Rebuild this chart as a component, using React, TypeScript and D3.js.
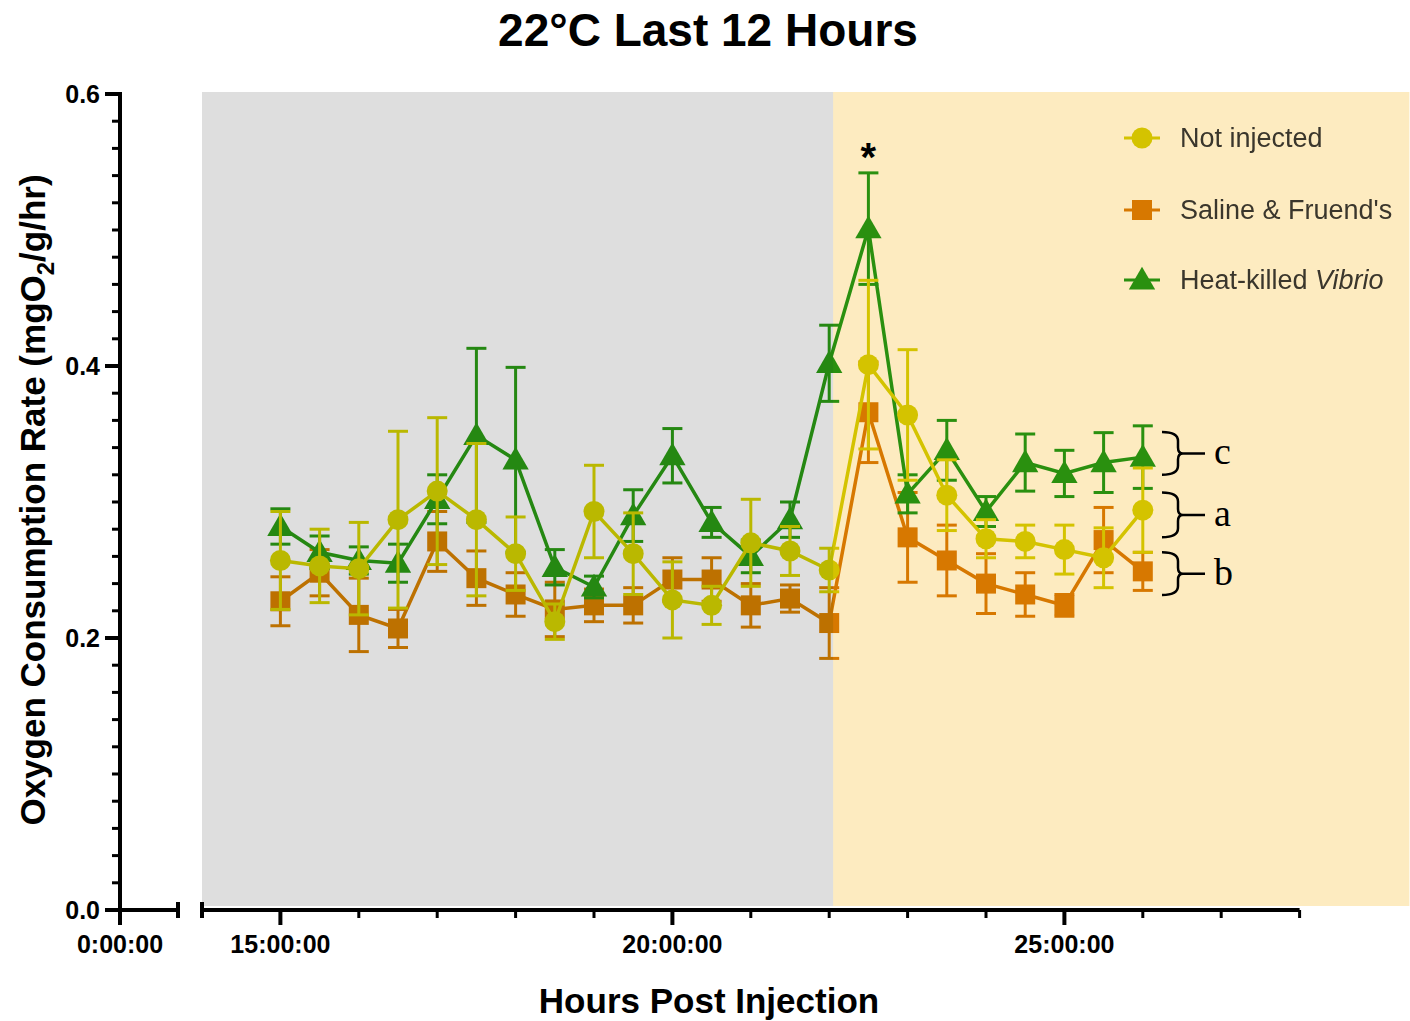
import React from 'react';
import * as d3 from 'd3';

const hours = [15, 15.5, 16, 16.5, 17, 17.5, 18, 18.5, 19, 19.5, 20, 20.5, 21, 21.5, 22, 22.5, 23, 23.5, 24, 24.5, 25, 25.5, 26];

const notInjected = [0.257, 0.253, 0.251, 0.287, 0.308, 0.287, 0.262, 0.212, 0.293, 0.262, 0.228, 0.224, 0.270, 0.264, 0.250, 0.401, 0.364, 0.305, 0.273, 0.271, 0.265, 0.259, 0.294];
const notInjectedErr = [0.036, 0.027, 0.034, 0.065, 0.054, 0.056, 0.027, 0.013, 0.034, 0.030, 0.028, 0.014, 0.032, 0.018, 0.016, 0.062, 0.048, 0.026, 0.014, 0.012, 0.018, 0.022, 0.031];

const saline = [0.227, 0.248, 0.217, 0.207, 0.271, 0.244, 0.232, 0.221, 0.224, 0.224, 0.243, 0.243, 0.224, 0.229, 0.211, 0.366, 0.274, 0.257, 0.240, 0.232, 0.224, 0.272, 0.249];
const salineErr = [0.018, 0.017, 0.027, 0.014, 0.022, 0.020, 0.016, 0.020, 0.012, 0.013, 0.016, 0.016, 0.016, 0.010, 0.026, 0.037, 0.033, 0.026, 0.022, 0.016, 0.008, 0.024, 0.014];

const vibrio = [0.282, 0.263, 0.257, 0.255, 0.302, 0.349, 0.331, 0.252, 0.2375, 0.290, 0.334, 0.285, 0.260, 0.287, 0.402, 0.501, 0.306, 0.338, 0.293, 0.329, 0.321, 0.329, 0.333];
const vibrioErr = [0.013, 0.012, 0.010, 0.014, 0.018, 0.064, 0.068, 0.013, 0.008, 0.019, 0.020, 0.011, 0.012, 0.013, 0.028, 0.041, 0.014, 0.022, 0.011, 0.021, 0.017, 0.022, 0.023];

const seriesNames = ['Not injected', 'Saline & Fruend\'s', 'Heat-killed'];
const seriesColors = ['#D6D400', '#D98200', '#2A9C14'];

const yMajorTicks = [0, 0.2, 0.4, 0.6];
const yTickLabels = ['0.0', '0.2', '0.4', '0.6'];
const xMajorTicks = [15, 20, 25];
const xTickLabels = ['15:00:00', '20:00:00', '25:00:00'];
const xMinorTicks = [16, 17, 18, 19, 21, 22, 23, 24, 26, 27, 28];

const lightsOff = [14, 22.05];
const lightsOn = [22.05, 29.4];

const groupLabels = ['c', 'a', 'b'];
const groupTops = [0.3515, 0.307, 0.263];
const groupBottoms = [0.320, 0.274, 0.2316];

const starHour = 22.5;
const starValue = 0.5596;

const FONT = '"Liberation Sans", Arial, sans-serif';

export default function App() {
  const W = 1410, H = 1021;
  const x = d3.scaleLinear().domain([14, 28]).range([202, 1299.6]);
  const xLeft = d3.scaleLinear().domain([0, 0.74]).range([120, 178]);
  const y = d3.scaleLinear().domain([0, 0.6]).range([910, 94]);

  const yMinor = d3.range(0, 0.6001, 0.02);

  const series = [
    { name: 1, vals: saline, err: salineErr, color: seriesColors[1], shape: 'square' },
    { name: 2, vals: vibrio, err: vibrioErr, color: seriesColors[2], shape: 'triangle' },
    { name: 0, vals: notInjected, err: notInjectedErr, color: seriesColors[0], shape: 'circle' },
  ];

  const line = d3.line<number>().x((_, i) => x(hours[i])).y((d) => y(d));

  const marker = (shape: string, cx: number, cy: number, color: string, key?: any) => {
    if (shape === 'circle') return <circle key={key} cx={cx} cy={cy} r={10.5} fill={color} />;
    if (shape === 'square') return <rect key={key} x={cx - 10} y={cy - 10} width={20} height={20} fill={color} />;
    const s = d3.symbol(d3.symbolTriangle, 300)();
    return <path key={key} d={s as string} transform={`translate(${cx},${cy + 2})`} fill={color} />;
  };

  const bracePath = (yt: number, yb: number) => {
    const ym = (yt + yb) / 2;
    const x0 = 1162, x1 = 1178, xt = 1205;
    return `M${x0},${yt} Q${x1},${yt} ${x1},${yt + 9} L${x1},${ym - 6} Q${x1},${ym} ${x1 + 5},${ym} L${xt},${ym} M${x1 + 5},${ym} Q${x1},${ym} ${x1},${ym + 6} L${x1},${yb - 9} Q${x1},${yb} ${x0},${yb}`;
  };

  const legendY = [138, 210, 280];
  const legendOrder = [0, 1, 2];
  const legendShapes = ['circle', 'square', 'triangle'];

  return (
    <svg width={W} height={H} style={{ position: 'absolute', left: 0, top: 0, background: '#fff' }}>
      <rect x={0} y={0} width={W} height={H} fill="#fff" />
      <g style={{ isolation: 'isolate' }}>
        {series.map((s, si) => (
          <g key={si}>
            {s.vals.map((v, i) => {
              const cx = x(hours[i]);
              const yt = y(v + s.err[i]);
              const yb = y(v - s.err[i]);
              return (
                <g key={i} stroke={s.color} strokeWidth={3}>
                  <line x1={cx} x2={cx} y1={yt} y2={yb} />
                  <line x1={cx - 10} x2={cx + 10} y1={yt} y2={yt} />
                  <line x1={cx - 10} x2={cx + 10} y1={yb} y2={yb} />
                </g>
              );
            })}
            <path d={line(s.vals) as string} fill="none" stroke={s.color} strokeWidth={3.5} />
            {s.vals.map((v, i) => marker(s.shape, x(hours[i]), y(v), s.color, i))}
          </g>
        ))}
        {legendOrder.map((si, k) => (
          <g key={k}>
            <line x1={1124} x2={1160} y1={legendY[k]} y2={legendY[k]} stroke={seriesColors[si]} strokeWidth={3} />
            {marker(legendShapes[k], 1142, legendY[k], seriesColors[si])}
            <text x={1180} y={legendY[k] + 9} fontFamily={FONT} fontSize={27} fill="#3a3a3a">
              {seriesNames[si]}
              {si === 2 ? <tspan fontStyle="italic"> Vibrio</tspan> : null}
            </text>
          </g>
        ))}
        <rect x={x(lightsOff[0])} y={92} width={x(lightsOff[1]) - x(lightsOff[0])} height={814} fill="#DEDEDE" style={{ mixBlendMode: 'multiply' }} />
        <rect x={x(lightsOn[0])} y={92} width={x(lightsOn[1]) - x(lightsOn[0])} height={814} fill="#FDEBC0" style={{ mixBlendMode: 'multiply' }} />
      </g>

      <text x={x(starHour)} y={y(starValue) + 22} textAnchor="middle" fontFamily={FONT} fontWeight="bold" fontSize={40} fill="#000">*</text>

      {groupLabels.map((g, i) => {
        const yt = y(groupTops[i]);
        const yb = y(groupBottoms[i]);
        const ym = (yt + yb) / 2;
        return (
          <g key={g}>
            <path d={bracePath(yt, yb)} fill="none" stroke="#000" strokeWidth={2.5} />
            <text x={1214} y={ym + 11} fontFamily='"Liberation Serif", "Times New Roman", serif' fontSize={38} fill="#000">{g}</text>
          </g>
        );
      })}

      <line x1={120} x2={120} y1={y(0.6) - 2} y2={925} stroke="#000" strokeWidth={4} />
      {yMinor.map((t, i) => (
        <line key={i} x1={112} x2={120} y1={y(t)} y2={y(t)} stroke="#000" strokeWidth={3} />
      ))}
      {yMajorTicks.map((t, i) => (
        <g key={i}>
          <line x1={105} x2={120} y1={y(t)} y2={y(t)} stroke="#000" strokeWidth={4} />
          <text x={100} y={y(t) + 9} textAnchor="end" fontFamily={FONT} fontWeight="bold" fontSize={25} fill="#000">{yTickLabels[i]}</text>
        </g>
      ))}

      <line x1={xLeft(0)} x2={xLeft(0.74)} y1={910} y2={910} stroke="#000" strokeWidth={4} />
      <line x1={xLeft(0.74)} x2={xLeft(0.74)} y1={902} y2={918} stroke="#000" strokeWidth={4} />
      <text x={xLeft(0)} y={953} textAnchor="middle" fontFamily={FONT} fontWeight="bold" fontSize={25} fill="#000">0:00:00</text>

      <line x1={x(14)} x2={x(28)} y1={910} y2={910} stroke="#000" strokeWidth={4} />
      <line x1={x(14)} x2={x(14)} y1={902} y2={918} stroke="#000" strokeWidth={4} />
      {xMinorTicks.map((t, i) => (
        <line key={i} x1={x(t)} x2={x(t)} y1={910} y2={918} stroke="#000" strokeWidth={3} />
      ))}
      {xMajorTicks.map((t, i) => (
        <g key={i}>
          <line x1={x(t)} x2={x(t)} y1={910} y2={925} stroke="#000" strokeWidth={4} />
          <text x={x(t)} y={953} textAnchor="middle" fontFamily={FONT} fontWeight="bold" fontSize={25} fill="#000">{xTickLabels[i]}</text>
        </g>
      ))}

      <text x={708} y={46} textAnchor="middle" fontFamily={FONT} fontWeight="bold" fontSize={46} fill="#000">22°C Last 12 Hours</text>
      <text x={709} y={1013} textAnchor="middle" fontFamily={FONT} fontWeight="bold" fontSize={35} fill="#000">Hours Post Injection</text>
      <text transform={`translate(45,500) rotate(-90)`} textAnchor="middle" fontFamily={FONT} fontWeight="bold" fontSize={35} fill="#000">
        Oxygen Consumption Rate (mgO<tspan fontSize={24} dy={9}>2</tspan><tspan dy={-9}>/g/hr)</tspan>
      </text>
    </svg>
  );
}
